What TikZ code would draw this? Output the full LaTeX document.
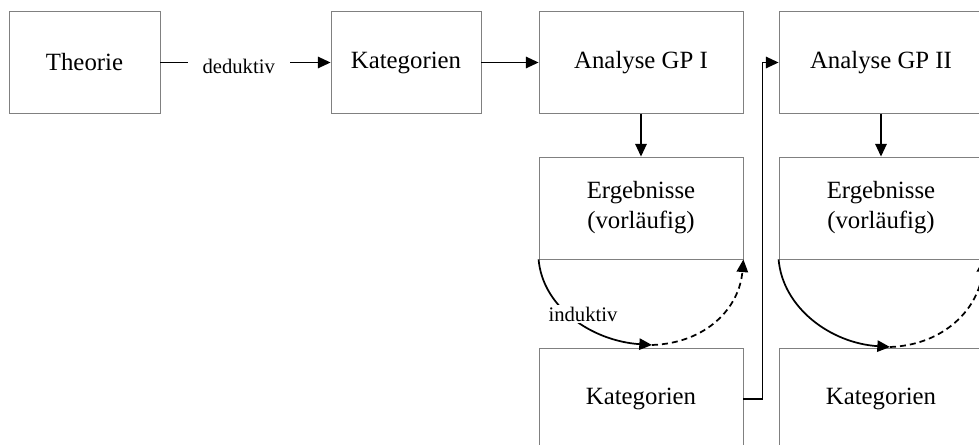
\documentclass[tikz,border=0pt]{standalone}
\usepackage{fontspec}
\setmainfont{Liberation Serif}
\usetikzlibrary{arrows.meta}

\tikzset{every picture/.style={line width=0.75pt}}
\tikzset{
  box/.style={draw=gray, line width=0.6pt, minimum height=76.5pt, inner sep=0pt, align=center, font=\fontsize{18.6pt}{22.5pt}\selectfont},
  lbl/.style={fill=white, inner sep=1pt, font=\fontsize{15.5pt}{18pt}\selectfont},
  arr/.style={line width=1.3pt, -{Triangle[length=9.5pt,width=8.5pt]}},
  dashline/.style={dash pattern={on 4.5pt off 3pt}},
}

\begin{document}
\begin{tikzpicture}[x=0.75pt,y=0.75pt,yscale=-1,xscale=1]
        \useasboundingbox (0,0) rectangle (979,445);

        %Shape: Rectangle [Theorie]
        \node[box, minimum width=113.25pt] (theo) at (84.5,62.5) {Theorie};
        %Shape: Rectangle [Kategorien]
        \node[box, minimum width=112.5pt] (kat) at (406,62.5) {Kategorien};
        %Shape: Rectangle [Analyse GP I]
        \node[box, minimum width=153pt] (gp1) at (641,62.5) {Analyse GP I};
        %Shape: Rectangle [Analyse GP II]
        \node[box, minimum width=153pt] (gp2) at (881,62.5) {Analyse GP II};

        %Shape: Rectangle [Ergebnisse I]
        \node[box, minimum width=153pt] (erg1) at (641,208) {Ergebnisse\\(vorläufig)};
        %Shape: Rectangle [Ergebnisse II]
        \node[box, minimum width=153pt] (erg2) at (881,208) {Ergebnisse\\(vorläufig)};

        %Shape: Rectangle [Kategorien I]
        \node[box, minimum width=153pt] (kat1) at (641,399) {Kategorien};
        %Shape: Rectangle [Kategorien II]
        \node[box, minimum width=153pt] (kat2) at (881,399) {Kategorien};

        \coordinate (m1) at (652,345);
        \coordinate (m2) at (890,347);

        %Straight Lines
        \draw[arr] (theo) -- node[lbl, pos=0.46, inner xsep=11pt, yshift=-3pt] (ded) {deduktiv} (kat);
        \draw[arr] (kat) -- (gp1);
        \draw[arr] (gp1) -- (erg1);
        \draw[arr] (gp2) -- (erg2);
        \draw[arr] (kat1.east) -- ++(19,0) |- (gp2.west);

        %Curve Lines
        \draw[arr] (erg1.south west) .. controls +(4,48) and +(-60,-4) .. (m1);
        \draw[arr, dashline] (m1) .. controls +(55,-2) and +(-4,48) .. (erg1.south east);
        \draw[arr] (erg2.south west) .. controls +(4,48) and +(-60,-4) .. (m2);
        \draw[arr, dashline] (m2) .. controls +(55,-2) and +(-4,48) .. (erg2.south east);

        % Text Node
        \node[lbl] (ind) at (583,314) {induktiv};
\end{tikzpicture}
\end{document}
